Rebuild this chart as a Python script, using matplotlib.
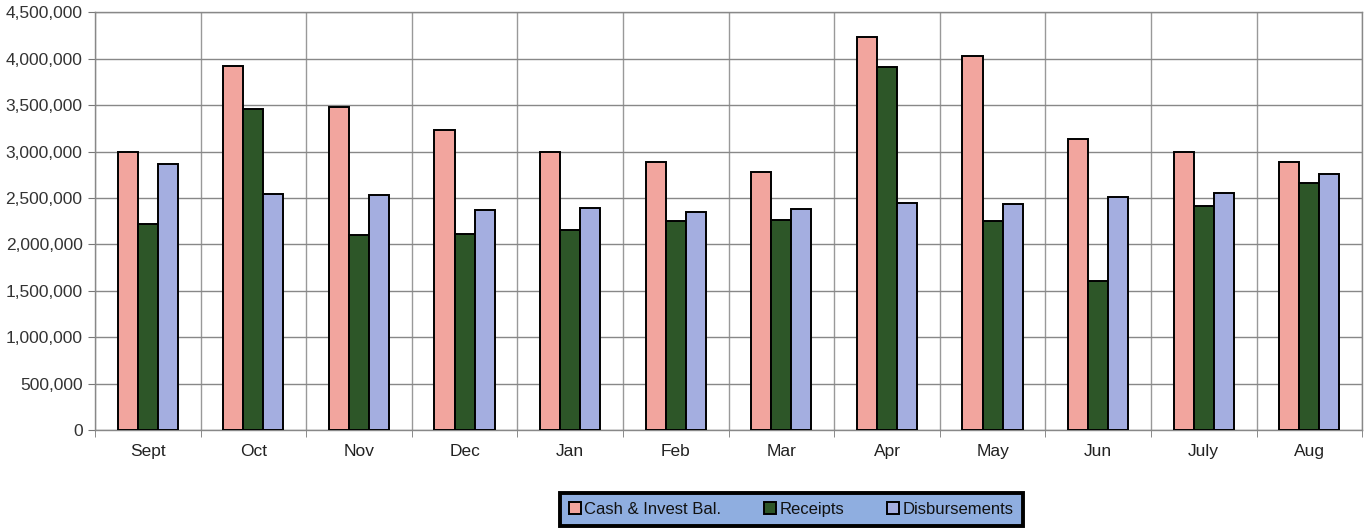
#!/usr/bin/env python3

import matplotlib.pyplot as plt
import numpy as np
from matplotlib.ticker import FuncFormatter, MultipleLocator

months = ["Sept", "Oct", "Nov", "Dec", "Jan", "Feb", "Mar", "Apr", "May", "Jun", "July", "Aug"]
cash_invest = [2990000, 3920000, 3480000, 3230000, 2990000, 2890000, 2780000, 4230000, 4030000, 3130000, 2990000, 2890000]
receipts = [2220000, 3460000, 2100000, 2110000, 2150000, 2250000, 2260000, 3910000, 2250000, 1610000, 2410000, 2660000]
disbursements = [2870000, 2540000, 2530000, 2370000, 2390000, 2350000, 2380000, 2450000, 2440000, 2510000, 2550000, 2760000]

series = [
    ("Cash & Invest Bal.", cash_invest, "#F2A59E"),
    ("Receipts", receipts, "#2D5628"),
    ("Disbursements", disbursements, "#A4AEE0"),
]

plt.rcParams["font.family"] = ["Liberation Sans", "DejaVu Sans"]

fig = plt.figure(figsize=(13.69, 5.31), dpi=100)
ax = fig.add_axes([0.0694, 0.19, 0.9256, 0.787])

xs = np.arange(len(months))
width = 0.19

for i, (label, values, color) in enumerate(series):
    ax.bar(xs + (i - 1) * width, values, width=width, color=color,
           edgecolor="black", linewidth=1.4, label=label, zorder=3)

ax.set_xlim(-0.5, len(months) - 0.5)
ax.set_ylim(0, 4500000)
ax.yaxis.set_major_locator(MultipleLocator(500000))
ax.yaxis.set_major_formatter(FuncFormatter(lambda v, _: f"{int(v):,}"))

# category labels in the middle, ticks and vertical grid at the boundaries
ax.set_xticks(xs, months)
ax.set_xticks(np.arange(len(months) + 1) - 0.5, minor=True)
ax.tick_params(axis="x", which="major", length=0, labelsize=12.5, pad=10)
ax.tick_params(axis="x", which="minor", length=5, color="#777777")
ax.tick_params(axis="y", length=5, color="#777777", labelsize=12.5, labelcolor="#333333", pad=4)
ax.tick_params(axis="x", labelcolor="#222222")

ax.grid(axis="y", which="major", color="#888888", linewidth=1.0, zorder=0)
ax.grid(axis="x", which="minor", color="#999999", linewidth=1.0, zorder=0)
ax.grid(axis="x", which="major", visible=False)

for side in ["left", "bottom", "right", "top"]:
    ax.spines[side].set_color("#888888")
    ax.spines[side].set_linewidth(1.0)

leg = fig.legend(loc="center", bbox_to_anchor=(0.578, 0.041), ncol=3,
                 frameon=True, fancybox=False, fontsize=12, handlelength=0.7,
                 handleheight=0.7, handletextpad=0.2, columnspacing=2.6,
                 borderpad=0.55, borderaxespad=0.0)
for text in leg.get_texts():
    text.set_color("#111111")
frame = leg.get_frame()
frame.set_facecolor("#8FAEE0")
frame.set_edgecolor("black")
frame.set_linewidth(2.8)
frame.set_alpha(1)

fig.savefig("out.png", dpi=100)
